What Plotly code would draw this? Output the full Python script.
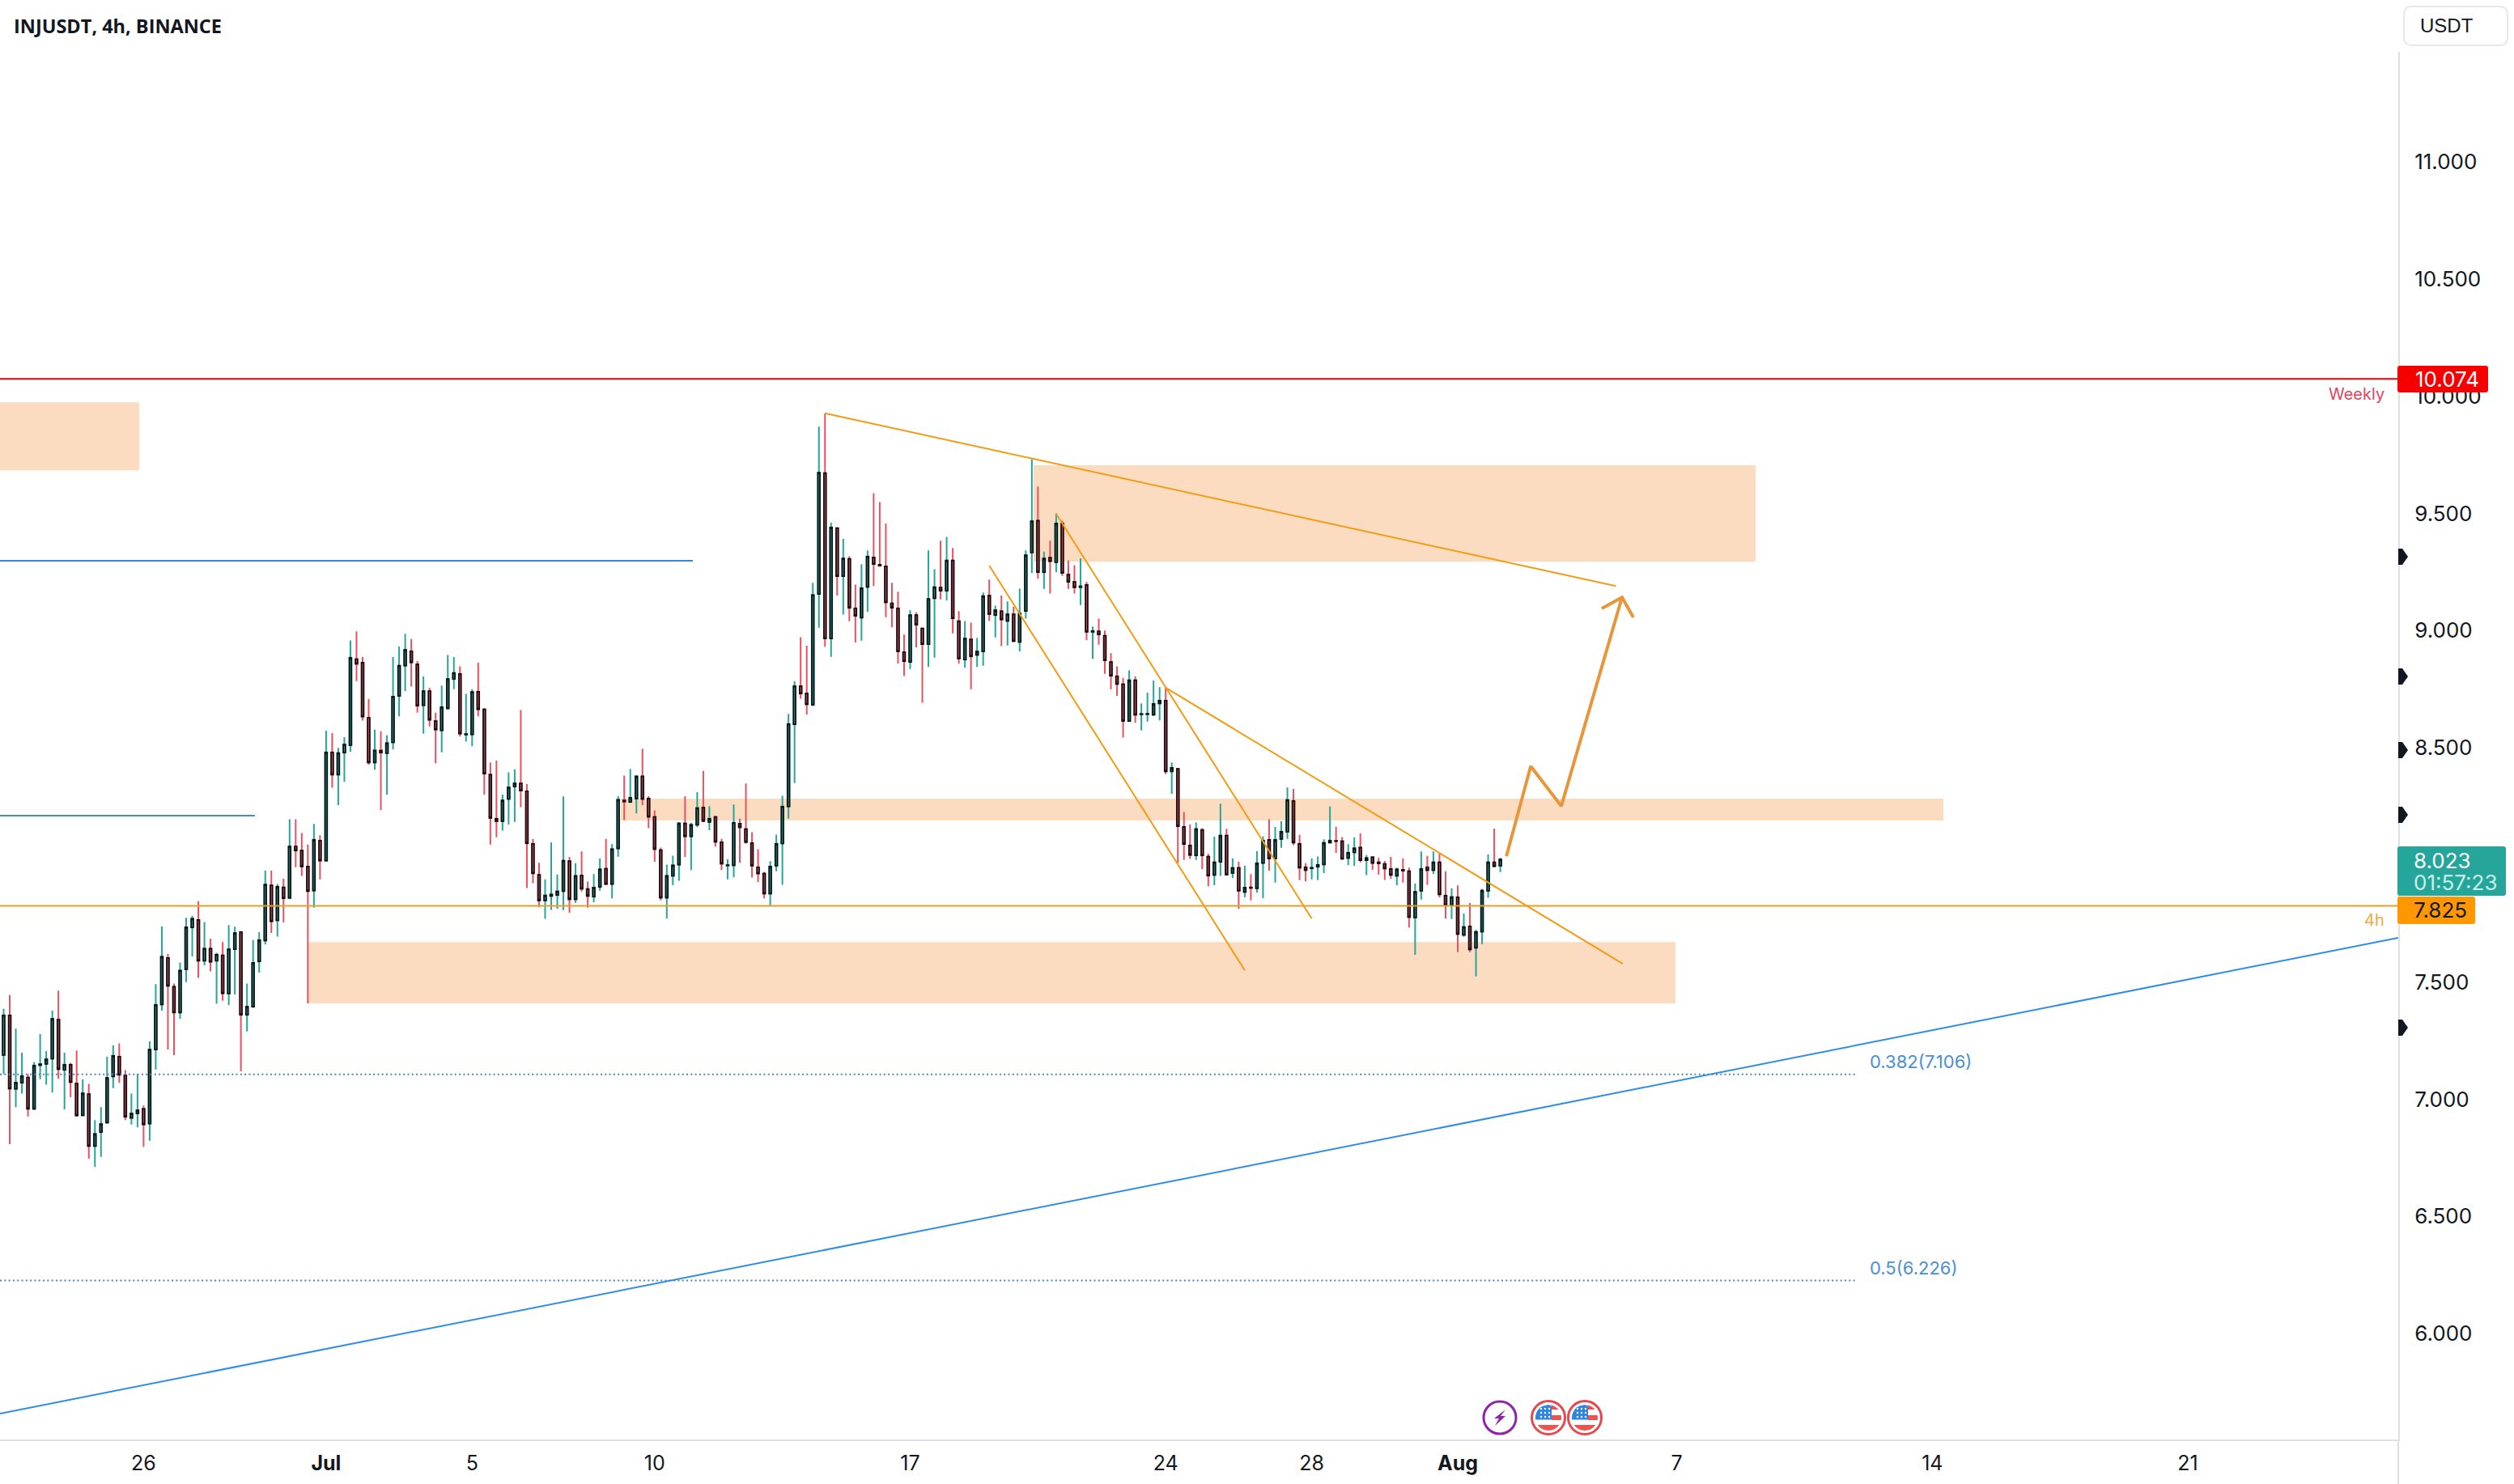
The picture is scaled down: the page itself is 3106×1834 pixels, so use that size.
import numpy as np
import pandas as pd
import plotly.graph_objects as go

# ---------- data (prices, 4h candles ending Aug 2 2023 04:00) ----------
opens = [
7.139,7.188,7.358,7.044,7.07,7.093,6.959,7.145,7.15,7.173,
7.34,7.125,7.147,7.067,6.931,7.022,6.8,6.859,6.9,7.097,
7.182,7.102,6.92,6.939,6.959,6.896,7.212,7.404,7.603,7.48,
7.37,7.554,7.733,7.765,7.591,7.643,7.591,7.614,7.451,7.64,
7.713,7.36,7.395,7.588,7.677,7.913,7.763,7.904,7.859,8.079,
8.061,7.993,7.89,8.104,8.018,
8.48,8.385,8.479,8.511,8.878,8.863,8.628,8.437,8.488,8.476,
8.523,8.721,8.85,8.912,8.856,8.681,8.742,8.614,8.574,8.668,
8.793,8.815,8.556,8.557,8.739,8.664,8.385,8.197,8.186,8.281,
8.334,8.348,8.314,8.09,7.958,7.848,7.867,7.871,7.888,
8.016,7.853,7.955,7.897,7.864,7.906,7.984,7.918,8.07,8.275,
8.268,8.283,8.378,8.283,8.205,8.063,7.86,7.953,8.001,8.177,
8.122,8.171,8.245,8.183,8.205,8.097,7.997,7.998,8.176,8.153,
8.093,7.99,7.963,7.877,7.996,8.091,8.249,8.6,8.763,8.732,
8.684,
9.156,9.672,8.966,9.437,9.232,9.306,9.095,9.055,9.186,9.312,
9.281,9.274,9.116,9.095,8.908,8.866,9.066,9.009,8.942,9.138,
9.184,9.17,9.299,9.04,8.876,8.963,8.896,8.911,9.149,9.066,
9.083,9.041,9.07,8.951,9.083,9.333,9.469,9.249,9.311,9.291,
9.457,9.239,9.208,9.185,9.195,8.994,8.997,8.978,8.866,8.805,
8.771,8.614,8.788,8.642,8.643,8.64,8.689,8.701,
8.399,8.41,8.162,8.083,8.04,8.149,8.035,7.957,8.013,8.125,
7.965,7.987,7.884,7.904,7.9,8.008,8.107,8.027,8.11,8.141,
8.273,8.09,7.99,7.985,7.992,8.002,8.095,8.103,8.101,8.029,
8.053,8.074,8.02,8.033,8.011,8.004,7.983,7.953,7.979,7.973,
7.775,7.889,7.99,7.977,8.011,7.869,7.829,7.862,7.701,7.738,
7.646,7.715,7.889,8.011,7.996]
highs = [
7.216,7.386,7.444,7.301,7.198,7.108,7.159,7.278,7.205,7.378,
7.463,7.198,7.155,7.208,7.085,7.065,6.911,6.966,7.182,7.229,
7.238,7.124,7.024,7.108,6.973,7.247,7.491,7.737,7.62,7.494,
7.583,7.774,7.783,7.845,7.756,7.685,7.625,7.671,7.743,7.736,
7.717,7.494,7.679,7.713,7.975,7.975,7.918,7.941,8.195,8.195,
8.136,8.087,8.175,8.126,8.573,
8.562,8.499,8.545,8.958,8.997,8.887,8.708,8.577,8.57,8.553,
8.887,8.932,8.986,8.964,8.87,8.804,8.755,8.65,8.765,8.896,
8.887,8.847,8.73,8.75,8.863,8.668,8.437,8.445,8.3,8.395,
8.408,8.661,8.345,8.11,8.009,7.938,8.095,7.959,8.292,
8.034,8.007,8.057,7.929,7.961,8.027,8.111,8.088,8.293,8.381,
8.41,8.381,8.496,8.293,8.232,8.074,8.001,8.039,8.183,8.293,
8.18,8.31,8.401,8.251,8.209,8.111,8.024,8.258,8.197,8.347,
8.139,8.067,7.97,8.016,8.129,8.295,8.644,8.783,8.972,8.935,
9.204,
9.87,9.927,9.46,9.44,9.391,9.317,9.196,9.283,9.342,9.586,
9.548,9.457,9.204,9.166,8.983,9.086,9.078,9.012,9.342,9.262,
9.383,9.4,9.352,9.083,9.041,9.034,8.968,9.162,9.218,9.106,
9.149,9.124,9.101,9.179,9.342,9.731,9.615,9.337,9.383,9.5,
9.469,9.299,9.279,9.308,9.207,9.017,9.051,9.0,8.903,8.847,
8.798,8.83,8.804,8.689,8.735,8.787,8.758,8.756,
8.437,8.414,8.226,8.172,8.182,8.157,8.048,8.12,8.261,8.154,
8.027,8.013,7.996,7.961,8.059,8.122,8.195,8.162,8.186,8.33,
8.324,8.128,8.007,8.028,8.036,8.109,8.249,8.163,8.119,8.088,
8.117,8.134,8.042,8.036,8.03,8.017,8.034,7.988,8.028,7.988,
7.921,8.057,8.038,8.057,8.048,7.973,7.9,7.912,7.792,7.837,
7.722,7.898,8.044,8.155,8.03]
lows = [
7.108,7.108,6.808,6.966,7.024,6.926,6.954,7.085,7.062,7.028,
7.088,6.957,7.008,6.926,6.928,6.746,6.711,6.754,6.896,7.047,
7.07,6.911,6.892,6.88,6.797,6.823,7.127,7.378,7.212,7.188,
7.343,7.5,7.609,7.518,7.571,7.545,7.407,7.42,7.401,7.447,
7.119,7.289,7.39,7.54,7.66,7.709,7.694,7.754,7.854,7.99,
7.953,7.409,7.817,7.938,8.015,
8.329,8.255,8.354,8.483,8.784,8.616,8.428,8.406,8.234,8.3,
8.493,8.634,8.742,8.761,8.65,8.56,8.591,8.434,8.48,8.662,
8.75,8.548,8.526,8.506,8.634,8.3,8.087,8.118,8.146,8.172,
8.183,8.246,7.901,7.922,7.82,7.77,7.808,7.813,7.807,
7.796,7.838,7.886,7.817,7.841,7.89,7.915,7.857,8.035,8.191,
8.266,8.22,8.255,8.157,8.013,7.848,7.771,7.913,7.932,8.034,
7.978,8.162,8.182,8.148,8.078,7.978,7.938,7.947,8.009,8.09,
7.946,7.927,7.857,7.825,7.973,7.915,8.197,8.349,8.709,8.642,
8.677,
9.012,8.931,8.888,9.149,9.068,9.04,8.949,8.957,9.08,9.19,
9.273,9.057,9.014,8.859,8.807,8.836,8.928,8.692,8.845,8.884,
9.133,9.129,8.988,8.859,8.842,8.75,8.845,8.85,9.041,8.971,
8.934,8.936,8.951,8.911,9.051,9.245,9.222,9.178,9.158,9.25,
9.233,9.178,9.158,9.109,8.959,8.879,8.94,8.815,8.75,8.721,
8.543,8.612,8.606,8.574,8.612,8.638,8.617,8.387,
8.303,8.007,8.021,8.025,8.021,7.981,7.909,7.913,7.953,7.956,
7.944,7.812,7.861,7.848,7.881,7.858,7.975,7.924,8.073,8.111,
8.084,7.935,7.93,7.938,7.935,7.965,8.094,8.051,8.022,7.999,
7.996,8.011,7.956,7.979,7.958,7.936,7.941,7.913,7.924,7.733,
7.616,7.852,7.915,7.961,7.861,7.771,7.769,7.627,7.693,7.627,
7.524,7.662,7.86,7.992,7.969]
closes = [
7.188,7.358,7.045,7.071,7.099,6.959,7.144,7.15,7.17,7.343,
7.128,7.147,7.073,6.93,7.025,6.8,6.852,6.894,7.091,7.185,
7.104,6.925,6.939,6.953,6.892,7.212,7.403,7.608,7.484,7.37,
7.549,7.734,7.77,7.591,7.643,7.586,7.617,7.452,7.64,7.709,
7.36,7.395,7.582,7.679,7.916,7.759,7.907,7.857,8.079,8.061,
7.993,7.888,8.107,8.018,8.48,
8.385,8.477,8.514,8.884,8.858,8.633,8.437,8.489,8.479,8.52,
8.718,8.85,8.918,8.864,8.679,8.742,8.619,8.577,8.673,8.793,
8.819,8.56,8.559,8.738,8.664,8.389,8.2,8.186,8.275,8.331,
8.348,8.317,8.092,7.964,7.848,7.87,7.874,7.887,8.018,
7.853,7.953,7.898,7.867,7.903,7.981,7.918,8.067,8.278,8.27,
8.287,8.378,8.281,8.205,8.067,7.86,7.953,7.998,8.177,8.122,
8.171,8.243,8.187,8.197,8.098,8.005,7.999,8.18,8.16,8.097,
7.996,7.963,7.877,7.993,8.09,8.249,8.601,8.763,8.731,8.685,
9.152,
9.674,8.966,9.44,9.232,9.308,9.097,9.063,9.181,9.316,9.284,
9.277,9.12,9.097,8.911,8.869,9.066,9.025,8.942,9.135,9.185,
9.17,9.299,9.052,8.88,8.966,8.89,8.911,9.147,9.07,9.087,
9.047,9.07,8.955,9.073,9.322,9.467,9.249,9.308,9.296,9.457,
9.246,9.208,9.184,9.189,8.994,8.998,8.983,8.873,8.807,8.772,
8.614,8.788,8.64,8.644,8.645,8.687,8.701,8.399,
8.414,8.165,8.089,8.042,8.153,8.04,7.954,8.011,8.125,7.958,
7.987,7.889,7.903,7.901,8.007,8.104,8.027,8.107,8.142,8.277,
8.095,7.988,7.977,7.988,8.0,8.094,8.104,8.101,8.026,8.052,
8.071,8.02,8.029,8.008,8.006,7.984,7.957,7.981,7.975,7.777,
7.885,7.983,7.977,8.011,7.874,7.829,7.863,7.705,7.735,7.639,
7.714,7.89,8.011,7.994,8.023]
assert len(opens) == len(highs) == len(lows) == len(closes) == 248

last_bar = "2023-08-02 04:00"
x_start, x_end = "2023-06-22 01:36", "2023-08-26 18:22"

tick_dates = ["2023-06-26","2023-07-01","2023-07-05","2023-07-10","2023-07-17","2023-07-24",
              "2023-07-28","2023-08-01","2023-08-07","2023-08-14","2023-08-21"]
tick_texts = ["26","<b>Jul</b>","5","10","17","24","28","<b>Aug</b>","7","14","21"]
# 8.000 sits behind the last-price tag in the reference, so it is not listed
price_ticks = [6.0,6.5,7.0,7.5,8.5,9.0,9.5,10.0,10.5,11.0]
price_labels = ["6.000","6.500","7.000","7.500","8.500","9.000","9.500","10.000","10.500","11.000"]

weekly_level, h4_level, last_price = 10.074, 7.825, 8.023
fib382, fib500 = 7.106, 6.226

zones = [  # start, end, upper, lower
    (x_start,            "2023-06-25 21:07", 9.974, 9.684),
    ("2023-07-20 09:07", "2023-08-09 03:50", 9.705, 9.294),
    ("2023-07-09 01:41", "2023-08-14 07:19", 8.283, 8.189),
    ("2023-06-30 12:00", "2023-08-06 23:10", 7.671, 7.409),
]
wedge_top   = (["2023-07-14 16:00","2023-08-05 08:00"], [9.927, 9.190])
channel_low = (["2023-07-19 04:00","2023-07-26 04:00"], [9.277, 7.550])
channel_up  = (["2023-07-21 00:00","2023-07-28 00:00"], [9.498, 7.771])
wedge_low   = (["2023-07-24 00:00","2023-08-05 12:33"], [8.756, 7.578])
path_dates  = ["2023-08-02 08:00","2023-08-03 00:00","2023-08-03 20:07","2023-08-05 12:02"]
path_prices = [8.037, 8.421, 8.251, 9.142]
head_dates  = ["2023-08-04 22:43","2023-08-05 12:02","2023-08-05 19:29"]
head_prices = [9.094, 9.142, 9.056]
rising_line = ([x_start, x_end], [5.658, 7.689])
blue_level1 = ([x_start, "2023-07-11 01:06"], [9.298, 9.298])
blue_level2 = ([x_start, "2023-06-29 01:12"], [8.210, 8.210])
fib_end = "2023-08-11 22:20"

# ---------- styling ----------
W, H = 3106, 1834
PL, PR, PT, PB = 0, 2963, 64, 1779
UP, DOWN = "#26a69a", "#e8525f"
UP_FILL, DOWN_FILL = "#2a9488", "#cf5560"
ORANGE, INK = "#f39c12", "#131722"
FONT = "Inter"

def px(x): return (x - PL) / (PR - PL)
def py(y): return 1 - (y - PT) / (PB - PT)

dates = pd.date_range(end=last_bar, periods=len(closes), freq="4h")
body_top = [max(o, c) for o, c in zip(opens, closes)]
body_bot = [min(o, c) for o, c in zip(opens, closes)]

fig = go.Figure()
fig.add_candlestick(
    x=dates, open=opens, high=highs, low=lows, close=closes, whiskerwidth=0,
    increasing=dict(line=dict(color=UP, width=2), fillcolor=UP),
    decreasing=dict(line=dict(color=DOWN, width=2), fillcolor=DOWN),
    hoverinfo="skip", showlegend=False)
fig.add_candlestick(
    x=dates, open=opens, high=body_top, low=body_bot, close=closes, whiskerwidth=0,
    increasing=dict(line=dict(color="#0c0f12", width=1.7), fillcolor=UP_FILL),
    decreasing=dict(line=dict(color="#0c0f12", width=1.7), fillcolor=DOWN_FILL),
    hoverinfo="skip", showlegend=False)

def line(xs, ys, color, width=2, dash="solid"):
    fig.add_scatter(x=xs, y=ys, mode="lines", hoverinfo="skip", showlegend=False,
                    line=dict(color=color, width=width, dash=dash))

line([x_start, x_end], [weekly_level]*2, "#f00000")
line([x_start, x_end], [h4_level]*2, "#e5a023")
line(*blue_level1, "#3d85c6")
line(*blue_level2, "#4a8db5")
line([x_start, fib_end], [fib382]*2, "#4d86b5", 2, "2px,3.3px")
line([x_start, fib_end], [fib500]*2, "#4d86b5", 2, "2px,3.3px")
line(*rising_line, "#2e8de6")
for seg in (wedge_top, channel_low, channel_up, wedge_low):
    line(*seg, ORANGE)
line(path_dates, path_prices, "#e8963c", 4)
line(head_dates, head_prices, "#e8963c", 4)

shapes = []
for x0, x1, top, bot in zones:
    shapes.append(dict(type="rect", xref="x", yref="y", x0=x0, x1=x1, y0=bot, y1=top,
                       fillcolor="#fbdcc0", line=dict(width=0), layer="below"))

def rrect(x0, x1, y0, y1, r, fill, stroke=None, sw=0):
    p = (f"M{px(x0+r)},{py(y0)} L{px(x1-r)},{py(y0)} Q{px(x1)},{py(y0)} {px(x1)},{py(y0+r)} "
         f"L{px(x1)},{py(y1-r)} Q{px(x1)},{py(y1)} {px(x1-r)},{py(y1)} L{px(x0+r)},{py(y1)} "
         f"Q{px(x0)},{py(y1)} {px(x0)},{py(y1-r)} L{px(x0)},{py(y0+r)} Q{px(x0)},{py(y0)} {px(x0+r)},{py(y0)} Z")
    return dict(type="path", xref="paper", yref="paper", path=p, fillcolor=fill,
                line=dict(color=stroke or fill, width=sw), layer="above")

def poly(points, fill):
    p = "M" + " L".join(f"{px(a)},{py(b)}" for a, b in points) + " Z"
    return dict(type="path", xref="paper", yref="paper", path=p, fillcolor=fill,
                line=dict(width=0), layer="above")

def circle(cx, cy, r, fill, stroke=None, sw=0):
    return dict(type="circle", xref="paper", yref="paper", x0=px(cx-r), x1=px(cx+r),
                y0=py(cy+r), y1=py(cy-r), fillcolor=fill,
                line=dict(color=stroke or fill, width=sw), layer="above")

def disc_slice(cx, cy, r, xa, xb, ya, yb, fill):
    ys = np.linspace(ya, yb, 12)
    right, left = [], []
    for y in ys:
        half = np.sqrt(max(r*r - y*y, 0))
        left.append((cx + max(xa, -half), cy + y))
        right.append((cx + min(xb, half), cy + y))
    return poly(left + right[::-1], fill)

# axis line and price tags
shapes.append(dict(type="line", xref="paper", yref="paper", x0=1, x1=1, y0=py(PB), y1=py(H),
                   line=dict(color="#dcdfe3", width=2), layer="above"))
shapes.append(rrect(2962, 3074, 452, 485, 3, "#f60000"))
shapes.append(rrect(2962, 3096, 1046, 1107, 3, "#26a69a"))
shapes.append(rrect(2962, 3058, 1108, 1142, 3, "#ff9800"))
shapes.append(rrect(2970, 3098, 8, 56, 10, "#ffffff", "#e8e8e8", 2))

# event flags on the price axis
for cy in (688, 836, 927, 1007, 1270):
    shapes.append(poly([(2963, cy-10), (2968, cy-10), (2975, cy), (2968, cy+10), (2963, cy+10)], INK))

# news icons
ICON_Y = 1752
shapes.append(circle(1853, ICON_Y, 20, "#ffffff", "#8e24aa", 3))
shapes.append(poly([(1853+a, ICON_Y+b) for a, b in
                    [(7,-10),(-7,1),(-1,1),(-6,10),(7,-2),(1,-2)]], "#8e24aa"))
for cx in (1913, 1958):
    shapes.append(circle(cx, ICON_Y, 20.5, "#ffffff", "#e5484d", 3))
    shapes.append(disc_slice(cx, ICON_Y, 16, 4, 20, -16, -10, "#ef5350"))
    shapes.append(disc_slice(cx, ICON_Y, 16, 4, 20, -3, 3, "#ef5350"))
    shapes.append(disc_slice(cx, ICON_Y, 16, -20, 20, 9, 16, "#ef5350"))
    shapes.append(disc_slice(cx, ICON_Y, 16, -20, 4, -16, 2.5, "#2f86e0"))
    for dx in (-9, -4, 1):
        for dy in (-11, -6, -1):
            shapes.append(circle(cx+dx, ICON_Y+dy, 1.2, "#ffffff"))

def text(x, y, s, size=26, color=INK, anchor="left", family=FONT):
    return dict(xref="paper", yref="paper", x=px(x), y=py(y), text=s, showarrow=False,
                xanchor=anchor, yanchor="middle", align=anchor,
                font=dict(family=family, size=size, color=color))

annotations = [
    text(15, 32, "<b>INJUSDT, 4h, BINANCE</b>", 23.5, INK, family="Open Sans"),
    text(2988, 32, "USDT", 24, INK, family="Liberation Sans"),
    text(2948, 487, "Weekly", 20, "#e0455f", "right"),
    text(2948, 1137, "4h", 20, "#f5a742", "right"),
    text(2982, 468.5, f"{weekly_level:.3f}", 26, "#ffffff"),
    text(2980, 1063, f"{last_price:.3f}", 26, "#ffffff"),
    text(2980, 1090, "01:57:23", 26, "#c8f0ea"),
    text(2980, 1124, f"{h4_level:.3f}", 26, "#131722"),
    text(2308, 1312, f"0.382({fib382:.3f})", 22, "#4a90d0"),
    text(2308, 1567, f"0.5({fib500:.3f})", 22, "#4a90d0"),
]

fig.update_layout(
    width=W, height=H, autosize=False,
    margin=dict(l=PL, r=W-PR, t=PT, b=H-PB, pad=0),
    paper_bgcolor="#ffffff", plot_bgcolor="#ffffff",
    boxmode="overlay", boxgap=0.5,
    showlegend=False, shapes=shapes, annotations=annotations,
    font=dict(family=FONT, color=INK, size=26),
    xaxis=dict(type="date", range=[x_start, x_end], rangeslider=dict(visible=False),
               tickmode="array", tickvals=tick_dates, ticktext=tick_texts, tickangle=0,
               showgrid=False, zeroline=False, showline=True, linecolor="#dcdfe3", linewidth=2,
               ticks="outside", ticklen=6, tickcolor="rgba(0,0,0,0)",
               tickfont=dict(family=FONT, size=25, color=INK)),
    yaxis=dict(side="right", range=[5.5477, 11.470], tickmode="array",
               tickvals=price_ticks, ticktext=price_labels,
               showgrid=False, zeroline=False, showline=True, linecolor="#dcdfe3", linewidth=2,
               ticks="outside", ticklen=13, tickcolor="rgba(0,0,0,0)",
               tickfont=dict(family=FONT, size=26, color=INK)),
)
fig.write_html("out.html", config=dict(displayModeBar=False),
               post_script="document.body.style.margin='0';document.documentElement.style.overflow='hidden';")
